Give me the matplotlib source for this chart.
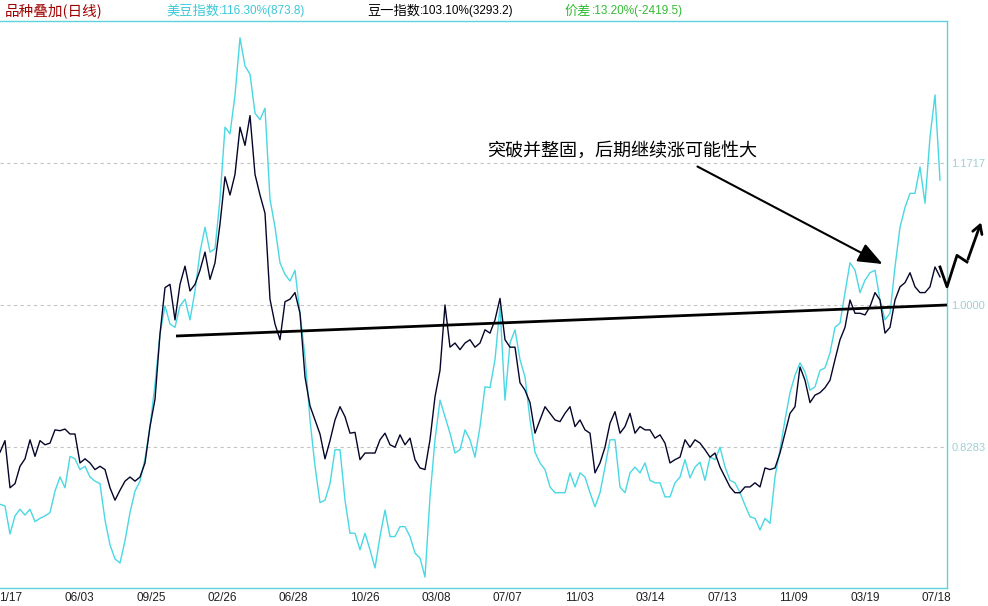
import numpy as np
import matplotlib
matplotlib.use('Agg')
import matplotlib.pyplot as plt

plt.rcParams['font.family'] = ['Noto Sans CJK SC', 'DejaVu Sans']

# 豆一指数 (ratio to base), one sample per step
soy_dalian = [
    0.822, 0.836, 0.779, 0.784, 0.805, 0.814, 0.837, 0.817, 0.836, 0.831,
    0.833, 0.849, 0.848, 0.850, 0.844, 0.844, 0.809, 0.814, 0.809, 0.801,
    0.805, 0.801, 0.779, 0.764, 0.776, 0.787, 0.792, 0.787, 0.792, 0.809,
    0.853, 0.886, 0.965, 1.021, 1.025, 0.982, 1.025, 1.047, 1.017, 1.025,
    1.042, 1.064, 1.031, 1.051, 1.098, 1.155, 1.133, 1.158, 1.215, 1.193,
    1.229, 1.158, 1.133, 1.111, 1.007, 0.977, 0.958, 1.004, 1.007, 1.015,
    0.990, 0.913, 0.878, 0.861, 0.844, 0.814, 0.836, 0.861, 0.877, 0.865,
    0.845, 0.846, 0.813, 0.821, 0.821, 0.821, 0.837, 0.845, 0.831, 0.828,
    0.843, 0.831, 0.839, 0.813, 0.803, 0.801, 0.837, 0.889, 0.921, 1.000,
    0.949, 0.954, 0.946, 0.954, 0.958, 0.949, 0.954, 0.970, 0.966, 0.982,
    1.008, 0.958, 0.949, 0.949, 0.906, 0.897, 0.882, 0.845, 0.861, 0.877,
    0.869, 0.861, 0.859, 0.869, 0.877, 0.853, 0.861, 0.849, 0.845, 0.797,
    0.809, 0.828, 0.857, 0.871, 0.845, 0.853, 0.869, 0.845, 0.853, 0.849,
    0.849, 0.839, 0.843, 0.833, 0.809, 0.813, 0.816, 0.837, 0.828, 0.837,
    0.833, 0.825, 0.816, 0.821, 0.804, 0.792, 0.780, 0.773, 0.773, 0.780,
    0.780, 0.785, 0.780, 0.803, 0.801, 0.803, 0.821, 0.845, 0.869, 0.877,
    0.925, 0.909, 0.882, 0.891, 0.894, 0.900, 0.909, 0.934, 0.958, 0.973,
    1.006, 0.990, 0.990, 0.988, 0.998, 1.015, 1.006, 0.966, 0.973, 1.006,
    1.022, 1.027, 1.039, 1.022, 1.015, 1.015, 1.022, 1.046, 1.034,
]

# 美豆指数 (ratio to base)
soy_us = [
    0.759, 0.757, 0.723, 0.745, 0.753, 0.746, 0.753, 0.738, 0.742, 0.745,
    0.749, 0.775, 0.792, 0.779, 0.817, 0.814, 0.801, 0.805, 0.792, 0.787,
    0.784, 0.740, 0.710, 0.693, 0.688, 0.715, 0.749, 0.775, 0.787, 0.814,
    0.853, 0.904, 0.965, 0.999, 0.977, 0.973, 0.999, 1.007, 0.982, 1.017,
    1.064, 1.094, 1.064, 1.068, 1.128, 1.215, 1.207, 1.254, 1.323, 1.289,
    1.279, 1.232, 1.224, 1.238, 1.128, 1.094, 1.051, 1.037, 1.029, 1.042,
    0.990, 0.938, 0.861, 0.805, 0.761, 0.764, 0.784, 0.825, 0.825, 0.764,
    0.724, 0.724, 0.704, 0.724, 0.704, 0.682, 0.720, 0.752, 0.720, 0.720,
    0.732, 0.732, 0.720, 0.700, 0.694, 0.671, 0.768, 0.837, 0.885, 0.865,
    0.845, 0.821, 0.825, 0.849, 0.837, 0.816, 0.853, 0.901, 0.900, 0.934,
    0.998, 0.885, 0.954, 0.970, 0.934, 0.913, 0.861, 0.822, 0.809, 0.801,
    0.780, 0.773, 0.773, 0.773, 0.797, 0.780, 0.797, 0.792, 0.773, 0.756,
    0.773, 0.804, 0.837, 0.837, 0.780, 0.773, 0.797, 0.804, 0.797, 0.809,
    0.788, 0.785, 0.785, 0.768, 0.768, 0.785, 0.792, 0.813, 0.791, 0.804,
    0.810, 0.788, 0.816, 0.813, 0.828, 0.804, 0.788, 0.785, 0.773, 0.758,
    0.744, 0.742, 0.728, 0.742, 0.736, 0.792, 0.825, 0.861, 0.894, 0.915,
    0.930, 0.919, 0.897, 0.901, 0.921, 0.924, 0.942, 0.973, 0.978, 1.015,
    1.051, 1.042, 1.015, 1.030, 1.039, 1.042, 1.006, 0.982, 0.990, 1.046,
    1.094, 1.118, 1.135, 1.135, 1.167, 1.123, 1.203, 1.254, 1.151,
]

date_labels = ['1/17', '06/03', '09/25', '02/26', '06/28', '10/26', '03/08',
               '07/07', '11/03', '03/14', '07/13', '11/09', '03/19', '07/18']
grid_levels = [1.1717, 1.0000, 0.8283]
grid_labels = ['1.1717', '1.0000', '0.8283']

# header legend entries: (name, value text, colour)
header_names = ['美豆指数', '豆一指数', '价差']
header_values = [':116.30%(873.8)', ':103.10%(3293.2)', ':13.20%(-2419.5)']
header_colors = ['#3cc8d8', '#000000', '#33bb33']
chart_title = '品种叠加(日线)'

# hand-drawn support line and projection zigzag
trend_x = [35.2, 189.4]
trend_y = [0.9625, 1.000]
zig_x = [188.0, 189.4, 191.4, 193.4, 196.4]
zig_y = [1.046, 1.022, 1.060, 1.052, 1.103]

annot_text = '突破并整固，后期继续涨可能性大'

W, H = 988, 606
fig = plt.figure(figsize=(W / 100, H / 100), dpi=100)
fig.patch.set_facecolor('white')
ax = fig.add_axes([0, 18 / H, 947 / W, 567 / H])
ax.set_facecolor('white')

x = np.arange(len(soy_dalian))
ax.plot(np.arange(len(soy_us)), soy_us, color='#48d8e4', lw=1.0, zorder=2)
ax.plot(x, soy_dalian, color='#05052a', lw=1.0, zorder=3)

ax.set_xlim(0, 189.4)
ax.set_ylim(0.6578, 1.3434)

for lv in grid_levels:
    ax.axhline(lv, color='#c4c4c4', lw=0.8, ls=(0, (3, 3)), zorder=1)

ax.plot(trend_x, trend_y, color='black', lw=2.0, zorder=4, solid_capstyle='butt')

ax.plot(zig_x[:-1], zig_y[:-1], color='black', lw=2.0, clip_on=False, zorder=5)
ax.annotate('', xy=(zig_x[-1], zig_y[-1]), xytext=(zig_x[-2], zig_y[-2]),
            arrowprops=dict(arrowstyle='->,head_length=0.6,head_width=0.35',
                            color='black', lw=2.0),
            annotation_clip=False, zorder=5)

ax.annotate('', xy=(177.0, 1.048), xytext=(139.0, 1.169),
            arrowprops=dict(arrowstyle='-|>,head_length=1.5,head_width=0.6',
                            color='black', lw=1.5))
ax.text(124.4, 1.187, annot_text, fontsize=13, ha='center', va='center',
        color='black', zorder=6)

# axes styling
ax.spines['left'].set_visible(False)
for s in ['top', 'bottom', 'right']:
    ax.spines[s].set_color('#5fd3dd')
    ax.spines[s].set_linewidth(1.0)

narrow = ['Liberation Sans Narrow', 'Liberation Sans', 'DejaVu Sans']
ax.yaxis.tick_right()
ax.set_yticks(grid_levels)
ax.set_yticklabels(grid_labels)
ax.tick_params(axis='y', length=0, pad=3, labelsize=8, labelcolor='#9fcfd6')
for lab in ax.get_yticklabels():
    lab.set_family(narrow)

tick_pos = [(11 if i == 0 else 8 + 71.4 * i) / 5 for i in range(len(date_labels))]
ax.set_xticks(tick_pos)
ax.set_xticklabels(date_labels)
ax.tick_params(axis='x', length=0, pad=3, labelsize=8.5, labelcolor='#202020')
for lab in ax.get_xticklabels():
    lab.set_family(narrow)

# header
hy = 1 - 11 / H
fig.text(5 / W, hy, chart_title, color='#a00000', fontsize=10.5, va='center')
name_x = [166, 367, 565]
value_x = [219, 420, 592]
for nm, val, col, nx, vx in zip(header_names, header_values, header_colors, name_x, value_x):
    fig.text(nx / W, hy, nm, color=col, fontsize=9.5, va='center')
    fig.text(vx / W, hy, val, color=col, fontsize=8.5, va='center', family=narrow)

fig.savefig('out.png', dpi=100, facecolor='white')
